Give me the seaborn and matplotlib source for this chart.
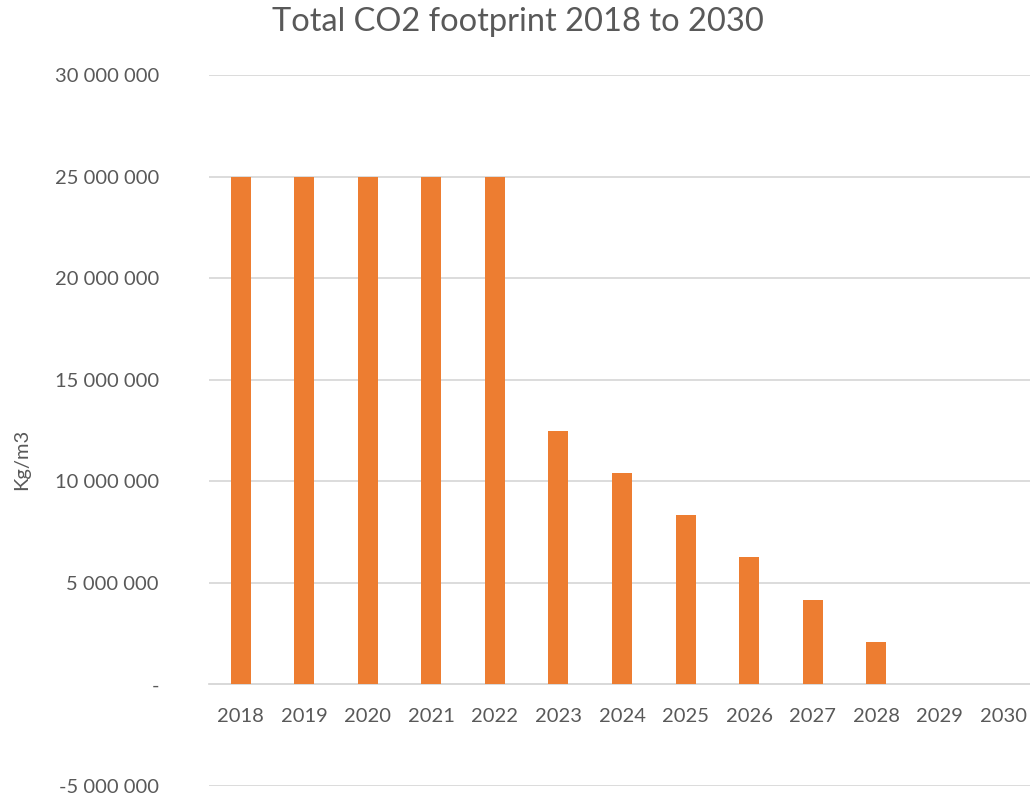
"""Total CO2 footprint bar chart, Excel look."""
import numpy as np
import pandas as pd
import seaborn as sns
import matplotlib.pyplot as plt
from matplotlib.ticker import FuncFormatter, MultipleLocator

YEARS = ["2018", "2019", "2020", "2021", "2022", "2023", "2024",
         "2025", "2026", "2027", "2028", "2029", "2030"]
CO2 = [25000000, 25000000, 25000000, 25000000, 25000000, 12500000, 10416667,
       8333333, 6250000, 4166667, 2083333, 0, 0]

TITLE = "Total CO2 footprint 2018 to 2030"
YLABEL = "Kg/m3"
BAR_COLOR = "#ED7D31"
TEXT_COLOR = "#595959"
GRID_COLOR = "#D9D9D9"


def fmt_thousands(v, pos):
    """Excel style number with space as thousands separator, 0 shown as '-'."""
    if v == 0:
        return "-"
    return "{:,.0f}".format(v).replace(",", " ")


if __name__ == "__main__":
    sns.set_style("white")
    plt.rcParams["font.family"] = ["Lato", "DejaVu Sans"]

    data = pd.DataFrame({"year": YEARS, "co2": CO2})

    fig = plt.figure(figsize=(10.30, 7.96), dpi=100)
    ax = fig.add_axes([209 / 1030, 10 / 796, 826 / 1030, 711 / 796])

    sns.barplot(data=data, x="year", y="co2", color=BAR_COLOR, width=0.315,
                linewidth=0, saturation=1, ax=ax, zorder=3)

    ax.set_ylim(-5000000, 30000000)
    ax.set_xlim(-0.5, len(YEARS) - 0.5)
    ax.yaxis.set_major_locator(MultipleLocator(5000000))
    ax.yaxis.set_major_formatter(FuncFormatter(fmt_thousands))
    ax.grid(axis="y", color=GRID_COLOR, linewidth=1.3, zorder=0)
    ax.set_axisbelow(True)

    for side in ["top", "right", "left"]:
        ax.spines[side].set_visible(False)
    # category labels sit right under the zero line
    ax.spines["bottom"].set_position(("data", 0))
    ax.spines["bottom"].set_color(GRID_COLOR)
    ax.spines["bottom"].set_linewidth(1.3)

    ax.tick_params(axis="x", length=0, pad=17, labelsize=14.5, labelcolor=TEXT_COLOR)
    ax.tick_params(axis="y", length=0, pad=36, labelsize=14.5, labelcolor=TEXT_COLOR)

    ax.set_xlabel("")
    ax.set_ylabel(YLABEL, fontsize=14.5, color=TEXT_COLOR)
    ax.yaxis.set_label_coords(-179 / 826, 0.46)

    fig.text(518 / 1030, 1 - 22 / 796, TITLE, ha="center", va="center",
             fontsize=23.5, color=TEXT_COLOR)

    plt.savefig("out.png", dpi=100)
